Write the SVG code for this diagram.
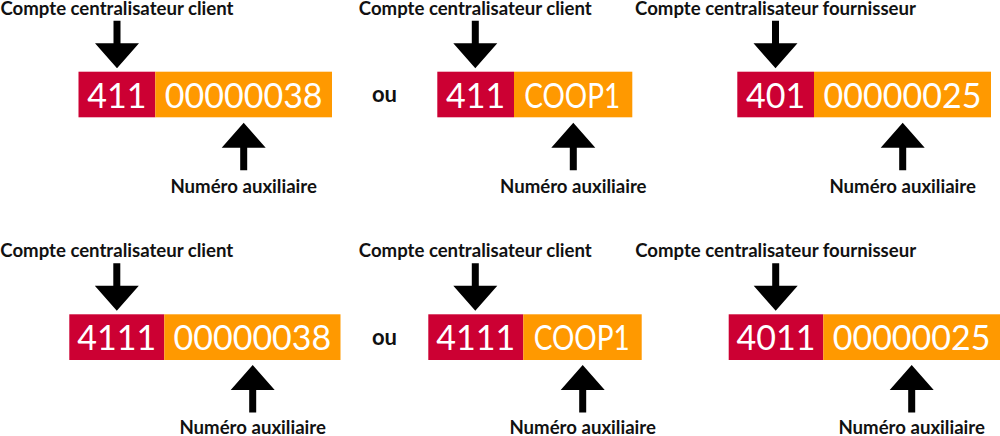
<svg xmlns="http://www.w3.org/2000/svg" width="1000" height="436" viewBox="0 0 1000 436">
<style>
.red{fill:#CC0033}
.org{fill:#FF9900}
.num{font-family:Lato,"Liberation Sans",sans-serif;font-size:34px;fill:#ffffff;text-anchor:middle}
.lbl{font-family:Lato,"Liberation Sans",sans-serif;font-weight:bold;font-size:18.6px;fill:#111111;text-anchor:middle}
.ou{font-family:Lato,"Liberation Sans",sans-serif;font-weight:bold;font-size:22px;fill:#111111;text-anchor:middle}
.arr{fill:#000000}
</style>
<defs>
<path id="down" d="M -3.5 -47.5 L 3.5 -47.5 L 3.5 -25 L 22 -25 L 0 0 L -22 -25 L -3.5 -25 Z"/>
</defs>
<rect width="1000" height="436" fill="#ffffff"/>

<g id="connectors">
<use href="#down" class="arr" transform="translate(117,68.3)"/>
<use href="#down" class="arr" transform="translate(243.7,122.7) scale(1,-1)"/>
<use href="#down" class="arr" transform="translate(475.3,68.3)"/>
<use href="#down" class="arr" transform="translate(573.3,122.7) scale(1,-1)"/>
<use href="#down" class="arr" transform="translate(775.5,68.3)"/>
<use href="#down" class="arr" transform="translate(902.7,122.7) scale(1,-1)"/>
<use href="#down" class="arr" transform="translate(116.8,310.7)"/>
<use href="#down" class="arr" transform="translate(252.7,365) scale(1,-1)"/>
<use href="#down" class="arr" transform="translate(475.3,310.7)"/>
<use href="#down" class="arr" transform="translate(582.7,365) scale(1,-1)"/>
<use href="#down" class="arr" transform="translate(775.7,310.7)"/>
<use href="#down" class="arr" transform="translate(911.7,365) scale(1,-1)"/>
</g>

<g id="row1-a">
<text class="lbl" x="117" y="14.6">Compte centralisateur client</text>
<rect class="red" x="78.5" y="71.7" width="76.8" height="45.6"/>
<rect class="org" x="155.3" y="71.7" width="176.7" height="45.6"/>
<text class="num" x="116.9" y="108.3">411</text>
<text class="num" x="243.7" y="108.3">00000038</text>
<text class="lbl" x="243.7" y="193.3">Numéro auxiliaire</text>
</g>
<g id="row1-ou"><text class="ou" x="384.5" y="101.7">ou</text></g>
<g id="row1-b">
<text class="lbl" x="475.3" y="14.6">Compte centralisateur client</text>
<rect class="red" x="437.3" y="71.7" width="76.7" height="45.6"/>
<rect class="org" x="514" y="71.7" width="118.3" height="45.6"/>
<text class="num" x="475.7" y="108.3">411</text>
<text class="num" x="572.2" y="108.3" textLength="96" lengthAdjust="spacingAndGlyphs">COOP1</text>
<text class="lbl" x="573.3" y="193.3">Numéro auxiliaire</text>
</g>
<g id="row1-c">
<text class="lbl" x="775.5" y="14.6">Compte centralisateur fournisseur</text>
<rect class="red" x="737.3" y="71.7" width="76.7" height="45.6"/>
<rect class="org" x="814" y="71.7" width="177" height="45.6"/>
<text class="num" x="775.7" y="108.3">401</text>
<text class="num" x="902.5" y="108.3">00000025</text>
<text class="lbl" x="902.7" y="193.3">Numéro auxiliaire</text>
</g>

<g id="row2-a">
<text class="lbl" x="116.8" y="257.2">Compte centralisateur client</text>
<rect class="red" x="69.3" y="314.3" width="95" height="45.7"/>
<rect class="org" x="164.3" y="314.3" width="176.2" height="45.7"/>
<text class="num" x="116.8" y="350">4111</text>
<text class="num" x="252.4" y="350">00000038</text>
<text class="lbl" x="252.7" y="434">Numéro auxiliaire</text>
</g>
<g id="row2-ou"><text class="ou" x="384.5" y="345">ou</text></g>
<g id="row2-b">
<text class="lbl" x="475.3" y="257.2">Compte centralisateur client</text>
<rect class="red" x="428.3" y="314.3" width="95" height="45.7"/>
<rect class="org" x="523.3" y="314.3" width="118.4" height="45.7"/>
<text class="num" x="475.8" y="350">4111</text>
<text class="num" x="581.7" y="350" textLength="96" lengthAdjust="spacingAndGlyphs">COOP1</text>
<text class="lbl" x="582.7" y="434">Numéro auxiliaire</text>
</g>
<g id="row2-c">
<text class="lbl" x="775.7" y="257.2">Compte centralisateur fournisseur</text>
<rect class="red" x="728.7" y="314.3" width="94.6" height="45.7"/>
<rect class="org" x="823.3" y="314.3" width="176.7" height="45.7"/>
<text class="num" x="776" y="350">4011</text>
<text class="num" x="911.6" y="350">00000025</text>
<text class="lbl" x="911.7" y="434">Numéro auxiliaire</text>
</g>
</svg>
